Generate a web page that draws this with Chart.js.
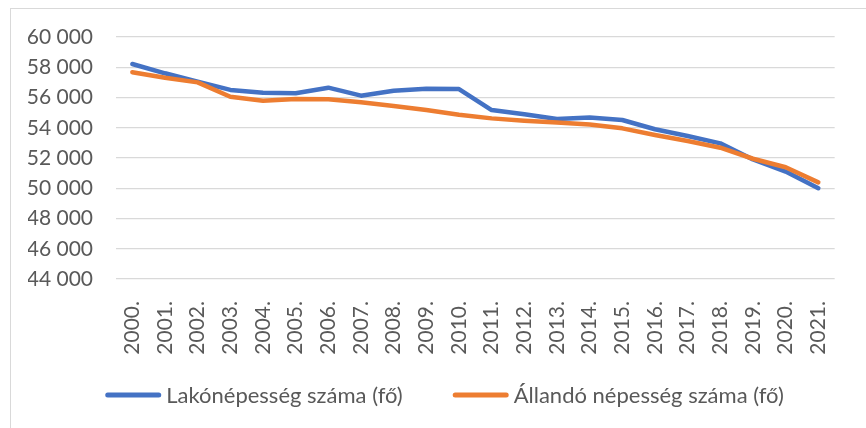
<!DOCTYPE html>
<html>
<head>
<meta charset="utf-8">
<script src="https://cdn.jsdelivr.net/npm/chart.js@4/dist/chart.umd.min.js"></script>
<style>
  html, body { margin: 0; padding: 0; background: #ffffff; overflow: hidden; }
  #wrap { position: relative; width: 866px; height: 428px; }
  #frame { position: absolute; left: 10px; top: 8px; right: -5px; bottom: -5px;
           border-left: 1.5px solid #d9d9d9; border-top: 1.5px solid #d9d9d9; pointer-events: none; }
  canvas { position: absolute; left: 0; top: 0; }
</style>
</head>
<body>
<div id="wrap">
  <canvas id="c" width="866" height="428"></canvas>
  <div id="frame"></div>
</div>
<script>
const years = ["2000.","2001.","2002.","2003.","2004.","2005.","2006.","2007.","2008.","2009.","2010.",
               "2011.","2012.","2013.","2014.","2015.","2016.","2017.","2018.","2019.","2020.","2021."];
const lakonepesseg = [58215, 57600, 57050, 56500, 56320, 56280, 56650, 56120, 56450, 56580, 56560,
                      55170, 54890, 54580, 54670, 54510, 53900, 53450, 52970, 51900, 51100, 50000];
const allandoNepesseg = [57670, 57300, 57000, 56050, 55790, 55900, 55880, 55680, 55440, 55170, 54860,
                         54620, 54470, 54340, 54220, 53960, 53520, 53120, 52680, 51950, 51390, 50390];
const seriesNames = ["Lakónépesség száma (fő)", "Állandó népesség száma (fő)"];
const yTicks = { min: 44000, max: 60000, step: 2000 };

const FONT = "Lato";
const TXT = "#595959";
const padL = 28;

const fmt = v => String(v).replace(/\B(?=(\d{3})+(?!\d))/g, " ");

// Legend drawn from the chart's own datasets (Excel-like spacing)
const excelLegend = {
  id: "excelLegend",
  afterDraw(chart) {
    const ctx = chart.ctx;
    const lineLen = 56, gapText = 5, gapItem = 50, y = 395, centerX = 444.5;
    ctx.save();
    ctx.font = "22px " + FONT;
    ctx.textBaseline = "middle";
    const items = chart.data.datasets.map(ds => ({ ds, w: ctx.measureText(ds.label).width }));
    const total = items.reduce((a, it) => a + lineLen + gapText + it.w, 0) + gapItem * (items.length - 1);
    let x = centerX - total / 2;
    items.forEach(it => {
      ctx.strokeStyle = it.ds.borderColor;
      ctx.lineWidth = 5;
      ctx.lineCap = "round";
      ctx.beginPath();
      ctx.moveTo(x + 2.5, y);
      ctx.lineTo(x + lineLen - 2.5, y);
      ctx.stroke();
      ctx.fillStyle = TXT;
      ctx.textAlign = "left";
      ctx.fillText(it.ds.label, x + lineLen + gapText, y + 1);
      x += lineLen + gapText + it.w + gapItem;
    });
    ctx.restore();
  }
};

new Chart(document.getElementById("c"), {
  type: "line",
  data: {
    labels: years,
    datasets: [
      { label: seriesNames[0], data: lakonepesseg, borderColor: "#4472C4", backgroundColor: "#4472C4",
        borderWidth: 4.5, pointRadius: 0, tension: 0, borderCapStyle: "round", borderJoinStyle: "round", order: 1 },
      { label: seriesNames[1], data: allandoNepesseg, borderColor: "#ED7D31", backgroundColor: "#ED7D31",
        borderWidth: 4.5, pointRadius: 0, tension: 0, borderCapStyle: "round", borderJoinStyle: "round", order: 0 }
    ]
  },
  plugins: [excelLegend],
  options: {
    responsive: false,
    animation: false,
    devicePixelRatio: 1,
    layout: { padding: { left: padL, right: 21, top: 37, bottom: 69 } },
    plugins: {
      tooltip: { enabled: false },
      legend: { display: false }
    },
    scales: {
      x: {
        offset: true,
        grid: { display: false, drawTicks: false },
        border: { display: false },
        ticks: { minRotation: 90, maxRotation: 90, padding: 22, autoSkip: false,
                 font: { family: FONT, size: 21 }, color: TXT },
        afterFit: (s) => { s.height = 80; }
      },
      y: {
        min: yTicks.min, max: yTicks.max,
        grid: { color: "#d9d9d9", lineWidth: 1.3, drawTicks: false },
        border: { display: false },
        ticks: { stepSize: yTicks.step, padding: 23, font: { family: FONT, size: 21 }, color: TXT,
                 callback: (v) => fmt(v) },
        afterFit: (s) => { s.width = 116 - padL; }
      }
    }
  }
});
</script>
</body>
</html>
